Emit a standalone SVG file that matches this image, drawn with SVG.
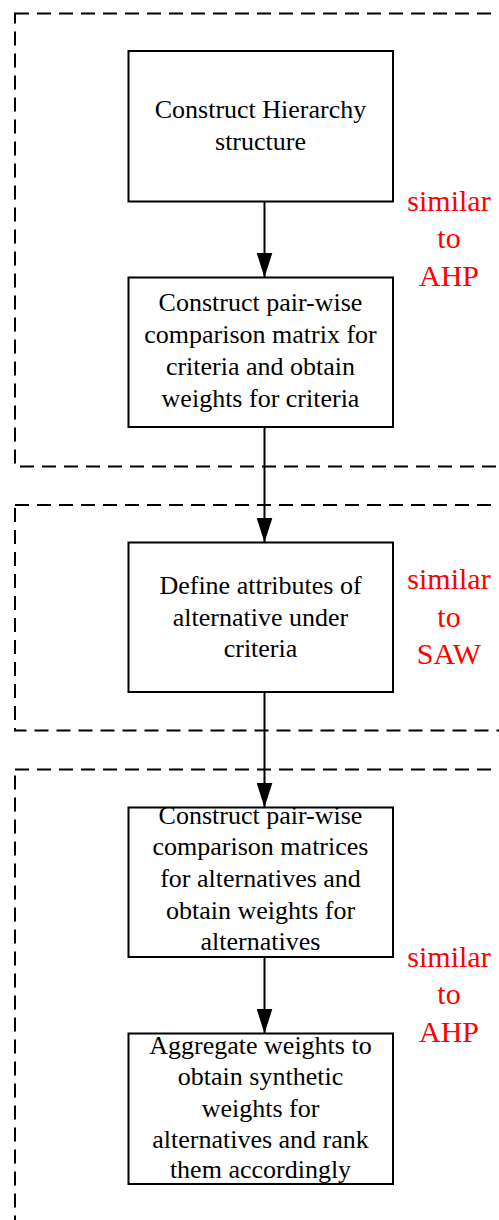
<svg xmlns="http://www.w3.org/2000/svg" width="499" height="1220" viewBox="0 0 499 1220">
  <style>
    .frame { fill: none; stroke: #000; stroke-width: 2; stroke-dasharray: 14 8; }
    .box { fill: #fff; stroke: #000; stroke-width: 2; }
    .label { font-family: "Liberation Serif", "Times New Roman", serif; font-size: 26px; fill: #000; text-anchor: middle; }
    .note { font-family: "Liberation Serif", "Times New Roman", serif; font-size: 30px; fill: #ff0000; text-anchor: middle; }
    .link { stroke: #000; stroke-width: 2; fill: none; marker-end: url(#arrow); }
  </style>
  <defs>
    <marker id="arrow" markerUnits="userSpaceOnUse" markerWidth="25" markerHeight="16" refX="24.5" refY="8" orient="auto" viewBox="0 0 25 16">
      <path d="M0,0 L25,8 L0,16 Z" fill="#000"/>
    </marker>
  </defs>

  <rect width="499" height="1220" fill="#fff"/>

  <!-- dashed stage frames (open to the right / bottom) -->
  <g id="frames">
    <rect class="frame" x="15" y="13.5" width="520" height="453"/>
    <rect class="frame" x="15" y="505" width="520" height="225.5"/>
    <rect class="frame" x="15" y="769.5" width="520" height="480"/>
  </g>

  <!-- connectors -->
  <g id="connectors">
    <line class="link" x1="264.5" y1="202" x2="264.5" y2="277"/>
    <line class="link" x1="264.5" y1="427" x2="264.5" y2="542"/>
    <line class="link" x1="264.5" y1="692" x2="264.5" y2="807"/>
    <line class="link" x1="264.5" y1="957" x2="264.5" y2="1033"/>
  </g>

  <g id="node-hierarchy">
    <rect class="box" x="128.5" y="51" width="264.5" height="150.5"/>
    <text class="label" x="260.5" y="118">Construct Hierarchy</text>
    <text class="label" x="260.5" y="150">structure</text>
  </g>

  <g id="node-criteria">
    <rect class="box" x="128.5" y="277.5" width="264.5" height="149.5"/>
    <text class="label" x="260.5" y="311">Construct pair-wise</text>
    <text class="label" x="260.5" y="343">comparison matrix for</text>
    <text class="label" x="260.5" y="375">criteria and obtain</text>
    <text class="label" x="260.5" y="406.5">weights for criteria</text>
  </g>

  <g id="node-attributes">
    <rect class="box" x="128.5" y="542.5" width="264.5" height="149.5"/>
    <text class="label" x="260.5" y="593.5">Define attributes of</text>
    <text class="label" x="260.5" y="625.5">alternative under</text>
    <text class="label" x="260.5" y="657">criteria</text>
  </g>

  <g id="node-alternatives">
    <rect class="box" x="128.5" y="807.5" width="264.5" height="149.5"/>
    <text class="label" x="260.5" y="823.5">Construct pair-wise</text>
    <text class="label" x="260.5" y="855">comparison matrices</text>
    <text class="label" x="260.5" y="887">for alternatives and</text>
    <text class="label" x="260.5" y="918.5">obtain weights for</text>
    <text class="label" x="260.5" y="949.5">alternatives</text>
  </g>

  <g id="node-aggregate">
    <rect class="box" x="128.5" y="1033.5" width="264.5" height="150.5"/>
    <text class="label" x="260.5" y="1053.5">Aggregate weights to</text>
    <text class="label" x="260.5" y="1085">obtain synthetic</text>
    <text class="label" x="260.5" y="1116.5">weights for</text>
    <text class="label" x="260.5" y="1147.5">alternatives and rank</text>
    <text class="label" x="260.5" y="1178">them accordingly</text>
  </g>

  <!-- stage notes -->
  <g id="note-ahp-1">
    <text class="note" x="449" y="211">similar</text>
    <text class="note" x="449" y="248">to</text>
    <text class="note" x="449" y="286">AHP</text>
  </g>
  <g id="note-saw">
    <text class="note" x="449" y="589">similar</text>
    <text class="note" x="449" y="626.5">to</text>
    <text class="note" x="449" y="663.5">SAW</text>
  </g>
  <g id="note-ahp-2">
    <text class="note" x="449" y="967">similar</text>
    <text class="note" x="449" y="1004">to</text>
    <text class="note" x="449" y="1042">AHP</text>
  </g>
</svg>
